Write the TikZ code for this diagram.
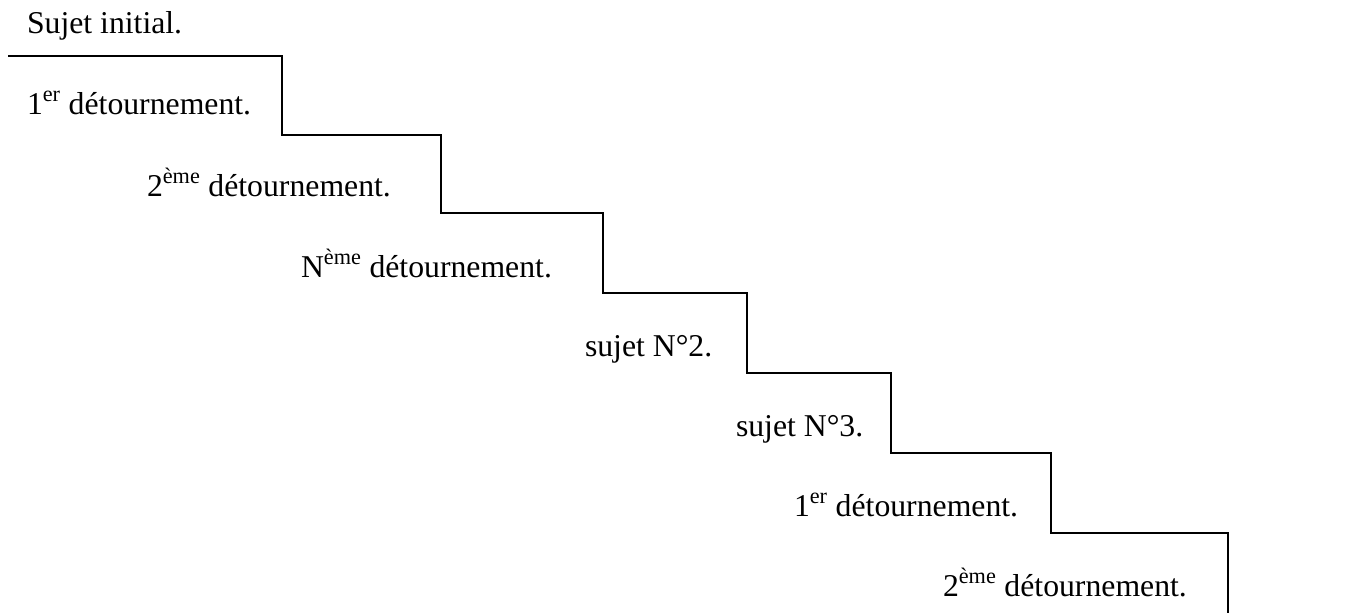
\documentclass[tikz,border=0pt]{standalone}
\usepackage{fontspec}
\setmainfont{Liberation Serif}
\begin{document}
\begin{tikzpicture}[x=0.75pt,y=-0.75pt,
  lbl/.style={anchor=base west,inner sep=0pt,outer sep=0pt,font=\fontsize{23.8}{28}\selectfont},
  stair/.style={line width=1.9pt,line cap=rect,line join=miter}]
\useasboundingbox (0,0) rectangle (1348,612);
\node[lbl] (t0) at (27,33) {Sujet initial.};
\node[lbl] (t1) at (27,114) {1\textsuperscript{er} détournement.};
\node[lbl] (t2) at (147,196) {2\textsuperscript{ème} détournement.};
\node[lbl] (t3) at (301,277) {N\textsuperscript{ème} détournement.};
\node[lbl] (t4) at (585,356) {sujet N°2.};
\node[lbl] (t5) at (736,436) {sujet N°3.};
\node[lbl] (t6) at (794,516) {1\textsuperscript{er} détournement.};
\node[lbl] (t7) at (943,596) {2\textsuperscript{ème} détournement.};
\coordinate (s0) at (9,56);
\coordinate (a1) at (282,56);
\coordinate (b1) at (282,135);
\coordinate (a2) at (441,135);
\coordinate (b2) at (441,213);
\coordinate (a3) at (603,213);
\coordinate (b3) at (603,293);
\coordinate (a4) at (747,293);
\coordinate (b4) at (747,373);
\coordinate (a5) at (891,373);
\coordinate (b5) at (891,453);
\coordinate (a6) at (1051,453);
\coordinate (b6) at (1051,533);
\coordinate (a7) at (1228,533);
\coordinate (e) at (1228,612);
\draw[stair] (s0) -- (a1) -- (b1) -- (a2) -- (b2) -- (a3) -- (b3) -- (a4) -- (b4) -- (a5) -- (b5) -- (a6) -- (b6) -- (a7) -- (e);
\end{tikzpicture}
\end{document}
